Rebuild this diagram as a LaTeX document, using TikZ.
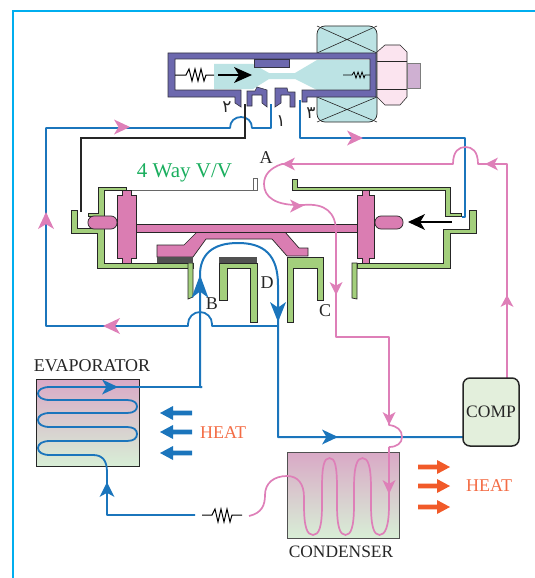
\documentclass[tikz,border=0pt]{standalone}
\usepackage{fontspec}
\setmainfont{Liberation Serif}
\newfontfamily\arabicfont[Script=Arabic]{DejaVu Sans}
\definecolor{bluel}{HTML}{1B75BC}
\definecolor{pinkl}{HTML}{DE7FB8}
\definecolor{pistonc}{HTML}{DA7DB2}
\definecolor{greenf}{HTML}{A3CF7C}
\definecolor{frameP}{HTML}{6C68AE}
\definecolor{tealf}{HTML}{BCE3E4}
\definecolor{plugc}{HTML}{FBE4EF}
\definecolor{squarec}{HTML}{CFB0D2}
\definecolor{orangel}{HTML}{F15A29}
\definecolor{heatc}{HTML}{F36C45}
\definecolor{greent}{HTML}{1AAE5E}
\definecolor{cyanb}{HTML}{00AEEF}
\definecolor{darkl}{HTML}{262626}
\definecolor{topc}{HTML}{D9A9C6}
\definecolor{botc}{HTML}{D8EED6}
\definecolor{compc}{HTML}{E3EFDC}
\tikzset{
  bline/.style={draw=bluel,line width=1.8pt,line join=round},
  pline/.style={draw=pinkl,line width=1.7pt,line join=round},
  housing/.style={fill=greenf,draw=darkl,line width=.7pt,line join=miter},
  piston/.style={fill=pistonc,draw=darkl,line width=.7pt},
  purplepart/.style={fill=frameP,draw=darkl!80!frameP,line width=.6pt},
  spring/.style={draw=black,line width=1pt,line join=miter},
  lab/.style={text=darkl,font=\fontsize{18}{18}\selectfont,inner sep=0pt},
  heatlab/.style={text=heatc,font=\fontsize{18}{18}\selectfont,inner sep=0pt},
  digit/.style={text=darkl,font=\arabicfont\fontsize{17}{17}\selectfont,inner sep=0pt},
}
% tip x, tip y, direction, colour, length, half width
\newcommand{\tipmark}[6]{\fill[#4,shift={(#1,#2)},rotate=#3] (0,0)--(-#5,-#6)--(-0.72*#5,0)--(-#5,#6)--cycle;}
% block arrow: tip x, y, direction, colour, tail length
\newcommand{\blockarrow}[5]{\fill[#4,shift={(#1,#2)},rotate=#3] (0,0)--(-13,-7)--(-13,-2.3)--(-#5,-2.3)--(-#5,2.3)--(-13,2.3)--(-13,7)--cycle;}
\begin{document}
\begin{tikzpicture}[x=1pt,y=-1pt]
\useasboundingbox (0,0) rectangle (535,578);
% page border
\draw[cyanb,line width=2pt] (13,578)--(13,11)--(535,11);

% ---------- solenoid ----------
\draw[fill=tealf,draw=darkl,line width=.7pt,rounded corners=8pt] (317,26) rectangle (377,122);
\draw[darkl,line width=.6pt] (317,26)--(377,53) (377,26)--(317,53) (317,97)--(377,122) (377,97)--(317,122);
\fill[white] (175,59) rectangle (370,90);
\fill[tealf] (214,64)--(253,64)--(269,73)--(295,73)--(317,60)--(370,60)--(370,90)--(317,90)--(295,79)--(269,79)--(253,89)--(214,89)--cycle;
\draw[purplepart] (168,53)--(376,53)--(376,97)--(307,97)--(307,102)--(302,102)--(302,90)--(370,90)--(370,59)--(175,59)--(175,90)--(241,90)--(241,107)--(235,103)--(235,97)--(168,97)--cycle;
\draw[purplepart] (254,59) rectangle (289,67);
\draw[purplepart] (247,91)--(255,91)--(257,87)--(267,90)--(267,107)--(262,103)--(262,95)--(252,95)--(252,106)--(247,106)--cycle;
\draw[purplepart] (275,107)--(275,88)--(287,88)--(288,92)--(295,92)--(295,107)--(290,107)--(290,95)--(281,95)--(281,103)--cycle;
% plug
\draw[fill=plugc,draw=darkl,line width=.6pt] (377,52)--(385,45)--(400,45)--(407,52)--(407,97)--(400,105)--(385,105)--(377,97)--cycle;
\draw[darkl,line width=.6pt] (377,61)--(407,61) (377,89)--(407,89);
\draw[fill=squarec,draw=darkl!60,line width=.5pt] (407,63) rectangle (420,88);
% springs
\draw[spring] (175,75)--(186,75)--(189,69)--(192,81)--(195,69)--(198,81)--(201,69)--(204,81)--(206,75)--(214,75);
\draw[spring,line width=.8pt] (343,75)--(352,75)--(354,72)--(356,78)--(358,72)--(360,78)--(362,72)--(364,78)--(365,75)--(370,75);
\draw[black,line width=1.6pt] (218,75)--(240,75);
\tipmark{252}{75}{0}{black}{18}{8}

% ---------- lines at solenoid ----------
\draw[bline] (271,104)--(271,128)--(252,128) .. controls (252,121) and (247,117) .. (241,117) .. controls (235,117) and (230,121) .. (230,128)--(46,128)--(46,326)--(188,326)--(188,324) arc[start angle=180,end angle=360,radius=12]--(212,326)--(278,326);
\draw[bline] (300,100)--(300,138)--(465,138)--(465,217)--(462,217);
\draw[darkl,line width=1.5pt] (245,104)--(245,138)--(81,138)--(81,212);

% ---------- left housing ----------
\draw[housing] (126,187)--(98,187)--(98,213)--(88,213)--(88,216)--(104,216)--(104,190)--(126,190)--cycle;
\draw[draw=darkl!70,line width=.8pt] (126,190)--(253,190);
\draw[fill=white,draw=darkl!70,line width=.7pt] (253,178) rectangle (257,190);
\draw[housing] (71,210)--(77,210)--(77,228)--(104,228)--(104,263)--(193,263)--(193,268)--(97,268)--(97,233)--(71,233)--cycle;
\draw[housing] (188,263)--(193,263)--(193,297)--(188,299)--cycle;
% centre D
\draw[housing] (219,263)--(257,263)--(257,322)--(250,322)--(250,268)--(227,268)--(227,300)--(219,300)--cycle;
\fill[darkl!80] (219,257) rectangle (257,263);
% C piece
\draw[housing] (287,257)--(323,257)--(323,300)--(317,300)--(317,268)--(293,268)--(293,322)--(287,322)--cycle;
% right housing
\draw[housing] (292,179)--(297,179)--(297,187)--(450,187)--(450,213)--(461,213)--(461,216)--(445,216)--(445,190)--(292,190)--cycle;
\draw[housing] (357,263)--(443,263)--(443,229)--(469,229)--(469,210)--(476,210)--(476,233)--(450,233)--(450,268)--(357,268)--cycle;
\draw[housing] (352,263)--(357,263)--(357,299)--(352,298)--cycle;

% ---------- pistons and slide ----------
\draw[piston] (157,245)--(184,245)--(197,232)--(285,232)--(299,248)--(308,248)--(308,256)--(287,256)--(272,239)--(206,239)--(193,257)--(157,257)--cycle;
\fill[darkl!80] (157,257) rectangle (193,263);
\draw[piston] (136,224) rectangle (357,232);
\draw[piston] (122,190)--(131,190)--(131,195)--(136,195)--(136,258)--(131,258)--(131,263)--(122,263)--(122,258)--(117,258)--(117,195)--(122,195)--cycle;
\draw[piston] (362,190)--(369,190)--(369,195)--(374,195)--(374,258)--(369,258)--(369,263)--(362,263)--(362,258)--(357,258)--(357,195)--(362,195)--cycle;
\draw[piston,rounded corners=6pt] (88,216)--(117,216)--(117,229)--(88,229)--cycle;
\draw[piston,rounded corners=6pt] (375,216)--(403,216)--(403,229)--(375,229)--cycle;
\draw[black,line width=2.5pt] (420,222)--(452,222);
\tipmark{408}{222}{180}{black}{17}{8}

% ---------- blue arch through valve ----------
\draw[bline,line width=2pt] (202,387)--(200,387)--(200,275) .. controls (200,255) and (212,243) .. (238,243) .. controls (264,243) and (278,255) .. (278,285)--(278,437)--(463,437);

% ---------- pink refrigerant path ----------
\draw[pline] (507,378)--(507,164)--(478,164) .. controls (478,151) and (472,147) .. (465.5,147) .. controls (459,147) and (453,151) .. (453,164)--(282,164) .. controls (270,168) and (264,175) .. (264,184) .. controls (264,197) and (275,206) .. (303,205) .. controls (325,203) and (336,212) .. (336,232)--(336,337)--(389,337)--(389,425) .. controls (397,426) and (402,430) .. (402,437) .. controls (402,443) and (397,447) .. (389,447);
% ---------- evaporator and condenser boxes ----------
\draw[draw=darkl,line width=.8pt,top color=topc,bottom color=botc] (36,379) rectangle (139,466);
\draw[draw=darkl!80,line width=.9pt,top color=topc,bottom color=botc] (287,452) rectangle (399,538);
% condenser coil on box
\draw[pline] (249,516) .. controls (262,513) and (265,505) .. (265,495) .. controls (265,483) and (274,476) .. (287,476) .. controls (298,476) and (304,484) .. (304,497)--(304,505) .. controls (304,527) and (307,535) .. (313,535) .. controls (319,535) and (322,527) .. (322,505)--(322,488) .. controls (322,466) and (324,458) .. (329.5,458) .. controls (335,458) and (337,466) .. (337,488)--(337,505) .. controls (337,527) and (340,535) .. (345.5,535) .. controls (351,535) and (354,527) .. (354,505)--(354,488) .. controls (354,466) and (357,458) .. (362.5,458) .. controls (368,458) and (371,466) .. (371,488)--(371,505) .. controls (371,527) and (374,535) .. (379.5,535) .. controls (385,535) and (389,527) .. (389,505)--(389,447);
% evaporator coil
\draw[bline] (202,387)--(50,387) .. controls (42,387) and (38,390) .. (38,393.5) .. controls (38,397) and (42,400) .. (50,400)--(127,400) .. controls (134,400) and (137,403) .. (137,406.5) .. controls (137,410) and (134,413) .. (127,413)--(50,413) .. controls (42,413) and (38,416) .. (38,420) .. controls (38,424) and (42,427) .. (50,427)--(127,427) .. controls (134,427) and (137,430) .. (137,434) .. controls (137,438) and (134,441) .. (127,441)--(50,441) .. controls (42,441) and (38,444) .. (38,448) .. controls (38,452) and (42,455) .. (50,455)--(93,455) .. controls (102,455) and (107,460) .. (107,472)--(107,515)--(195,515);
% compressor
\node[draw=darkl,line width=1.5pt,fill=compc,rounded corners=7pt,minimum width=56pt,minimum height=68pt,inner sep=0pt,text=darkl,font=\fontsize{17.5}{17}\selectfont] (comp) at (491,412) {COMP};
% expansion device
\draw[spring] (202,515)--(212,515)--(215,509)--(218,522)--(221,509)--(224,522)--(227,509)--(230,522)--(232,515)--(242,515);

% ---------- arrow heads ----------
\tipmark{363}{138}{0}{pinkl}{16}{7.5}
\tipmark{130}{127}{0}{pinkl}{16}{7.5}
\tipmark{46}{212}{90}{pinkl}{17}{8}
\tipmark{103}{326}{180}{pinkl}{17}{8}
\tipmark{485}{164}{180}{pinkl}{13}{6.5}
\tipmark{282}{164}{180}{pinkl}{13}{6.5}
\tipmark{303}{206}{0}{pinkl}{13}{6.5}
\tipmark{336}{295}{-90}{pinkl}{13}{6.5}
\tipmark{507}{295}{90}{pinkl}{12}{6.5}
\tipmark{389}{425}{-90}{pinkl}{13}{6.5}
\tipmark{389}{494}{-90}{pinkl}{14}{6.5}
\tipmark{200}{275}{90}{bluel}{23}{8.5}
\tipmark{278}{322}{-90}{bluel}{20}{8}
\tipmark{338}{437}{0}{bluel}{16}{7.5}
\tipmark{118}{387}{0}{bluel}{16}{7.5}
\tipmark{107}{482}{90}{bluel}{15}{7.5}
% heat arrows
\blockarrow{160}{413}{180}{bluel}{32}
\blockarrow{160}{432}{180}{bluel}{32}
\blockarrow{160}{453}{180}{bluel}{32}
\blockarrow{450}{467}{0}{orangel}{32}
\blockarrow{450}{486}{0}{orangel}{32}
\blockarrow{450}{507}{0}{orangel}{32}

% ---------- labels ----------
\node[lab] (lA) at (266,158) {A};
\node[lab] (lB) at (212,304) {B};
\node[lab] (lC) at (325,311) {C};
\node[lab] (lD) at (267,283) {D};
\node[inner sep=0pt,text=greent,font=\fontsize{21}{21}\selectfont] (vv) at (184.5,173) {4 Way V/V};
\node[lab] (evap) at (92,366) {EVAPORATOR};
\node[lab,font=\fontsize{17.4}{18}\selectfont] (cond) at (341,552) {CONDENSER};
\node[heatlab] (h1) at (223,433) {HEAT};
\node[heatlab] (h2) at (489,486) {HEAT};
\node[digit] (d2) at (227,107) {۲};
\node[digit] (d1) at (281,121) {۱};
\node[digit] (d3) at (311,113) {۳};
\end{tikzpicture}
\end{document}
